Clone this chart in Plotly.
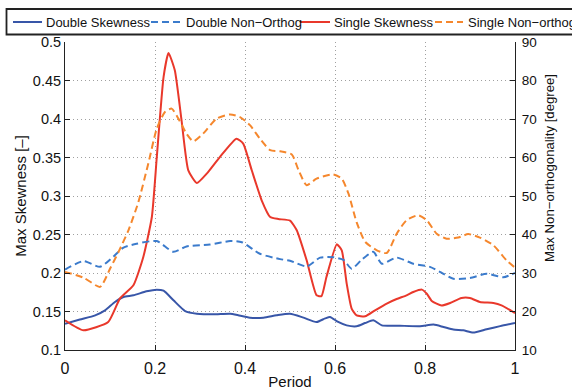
import plotly.graph_objects as go

# ---------------- data ----------------
x_ds = [0.0, 0.033, 0.067, 0.089, 0.111, 0.13, 0.152, 0.181, 0.204, 0.219, 0.241, 0.267,
        0.293, 0.33, 0.367, 0.385, 0.411, 0.441, 0.47, 0.5, 0.53, 0.559, 0.578, 0.589,
        0.607, 0.626, 0.648, 0.667, 0.685, 0.704, 0.744, 0.789, 0.819, 0.841, 0.863,
        0.885, 0.907, 0.937, 0.967, 1.0]
double_skew = [0.134, 0.1395, 0.145, 0.1515, 0.1623, 0.1688, 0.171, 0.1762, 0.1784, 0.177,
               0.1646, 0.1506, 0.1472, 0.1463, 0.1472, 0.145, 0.142, 0.142, 0.145, 0.147,
               0.142, 0.1364, 0.141, 0.143, 0.1364, 0.132, 0.1308, 0.135, 0.1386, 0.132,
               0.1315, 0.131, 0.133, 0.1299, 0.1265, 0.1256, 0.1226, 0.1269, 0.131, 0.135]

x_dn = [0.0, 0.041, 0.078, 0.107, 0.13, 0.159, 0.204, 0.241, 0.27, 0.322, 0.367, 0.393,
        0.433, 0.478, 0.5, 0.537, 0.567, 0.596, 0.619, 0.637, 0.659, 0.685, 0.704, 0.737,
        0.774, 0.811, 0.833, 0.863, 0.9, 0.937, 0.974, 1.0]
double_nonorth = [30.9, 33.1, 31.6, 34.2, 36.6, 37.6, 38.3, 35.5, 36.9, 37.4, 38.3, 38.0,
                  35.0, 33.6, 33.2, 31.7, 34.0, 34.1, 33.4, 31.1, 33.4, 35.5, 32.4, 34.0,
                  32.4, 31.6, 30.3, 28.5, 28.7, 29.8, 28.9, 30.0]

x_ss = [0.0, 0.041, 0.096, 0.122, 0.152, 0.174, 0.193, 0.204, 0.219, 0.23, 0.244, 0.259,
        0.274, 0.293, 0.315, 0.344, 0.381, 0.396, 0.415, 0.437, 0.456, 0.474, 0.5, 0.515,
        0.537, 0.559, 0.57, 0.581, 0.604, 0.615, 0.626, 0.637, 0.648, 0.667, 0.689, 0.715,
        0.737, 0.759, 0.774, 0.793, 0.804, 0.815, 0.837, 0.856, 0.881, 0.9, 0.922, 0.952,
        0.97, 1.0]
single_skew = [0.1386, 0.1256, 0.1364, 0.1668, 0.184, 0.2208, 0.2727, 0.3506, 0.4545, 0.4857,
               0.4632, 0.3983, 0.3334, 0.3169, 0.3291, 0.3506, 0.3745, 0.368, 0.3334, 0.2944,
               0.2727, 0.2701, 0.268, 0.2555, 0.2165, 0.171, 0.170, 0.1948, 0.2373, 0.2295,
               0.1862, 0.1538, 0.145, 0.1437, 0.1515, 0.1603, 0.1662, 0.171, 0.1753, 0.1784,
               0.173, 0.1637, 0.1577, 0.161, 0.1675, 0.1675, 0.1623, 0.161, 0.158, 0.148]

x_sn = [0.0, 0.041, 0.078, 0.1, 0.119, 0.141, 0.163, 0.185, 0.204, 0.222, 0.237, 0.252,
        0.27, 0.285, 0.307, 0.337, 0.367, 0.389, 0.411, 0.433, 0.456, 0.478, 0.504, 0.519,
        0.537, 0.559, 0.596, 0.615, 0.63, 0.648, 0.667, 0.693, 0.715, 0.737, 0.759, 0.785,
        0.804, 0.826, 0.848, 0.874, 0.896, 0.922, 0.952, 0.981, 1.0]
single_nonorth = [30.3, 28.8, 26.4, 31.1, 35.5, 41.1, 48.4, 58.4, 67.5, 71.8, 72.7, 70.1,
                  66.2, 64.2, 66.2, 70.1, 71.2, 70.5, 68.4, 64.9, 61.9, 61.6, 60.8, 56.7,
                  52.8, 54.5, 55.6, 54.5, 50.6, 43.2, 38.1, 35.9, 35.2, 40.2, 43.7, 45.0,
                  43.7, 40.2, 38.9, 39.2, 40.1, 39.2, 37.2, 33.3, 31.4]

series_names = ["Double Skewness", "Double Non\u2212Orthog", "Single Skewness", "Single Non\u2212orthog"]
x_ticks = [0, 0.2, 0.4, 0.6, 0.8, 1]
x_ticklabels = ["0", "0.2", "0.4", "0.6", "0.8", "1"]
left_ticks = [0.1, 0.15, 0.2, 0.25, 0.3, 0.35, 0.4, 0.45, 0.5]
right_ticks = [10, 20, 30, 40, 50, 60, 70, 80, 90]

# ---------------- style ----------------
BLUE = "#3856a8"
BLUE_D = "#3b7bcc"
RED = "#e9382b"
ORANGE = "#f5872d"
DASH = "7px,4px"
GRID = "#a0a0a0"
GRIDDASH = "1px,3px"
FONT = "Liberation Sans, Arial, sans-serif"

W, H = 572, 390
ML, MR, MT, MB = 65, 57, 42, 40
PW, PH = W - ML - MR, H - MT - MB


def px(xp):
    return (xp - ML) / PW


def py(yp):
    return (H - MB - yp) / PH


fig = go.Figure()
fig.add_trace(go.Scatter(x=x_ds, y=double_skew, mode="lines", name=series_names[0],
                         line=dict(color=BLUE, width=2, shape="spline", smoothing=0.6)))
fig.add_trace(go.Scatter(x=x_dn, y=double_nonorth, mode="lines", name=series_names[1], yaxis="y2",
                         line=dict(color=BLUE_D, width=2, dash=DASH, shape="spline", smoothing=0.6)))
fig.add_trace(go.Scatter(x=x_ss, y=single_skew, mode="lines", name=series_names[2],
                         line=dict(color=RED, width=2, shape="spline", smoothing=0.5)))
fig.add_trace(go.Scatter(x=x_sn, y=single_nonorth, mode="lines", name=series_names[3], yaxis="y2",
                         line=dict(color=ORANGE, width=2, dash=DASH, shape="spline", smoothing=0.6)))

axis_common = dict(showline=True, linecolor="#222", linewidth=1, ticks="inside", ticklen=5,
                   tickcolor="#222", zeroline=False, mirror=False, automargin=False)

fig.update_layout(
    width=W, height=H,
    margin=dict(l=ML, r=MR, t=MT, b=MB),
    paper_bgcolor="white", plot_bgcolor="white",
    showlegend=False,
    font=dict(family=FONT, size=15, color="#111"),
    xaxis=dict(range=[0, 1], tickvals=x_ticks, ticktext=x_ticklabels,
               showgrid=True, gridcolor=GRID, griddash=GRIDDASH, gridwidth=1,
               tickfont=dict(family=FONT, size=16), ticklabelstandoff=4,
               title=dict(text="Period", font=dict(family=FONT, size=15), standoff=0),
               **axis_common),
    yaxis=dict(range=[0.1, 0.5], tickvals=left_ticks,
               showgrid=True, gridcolor=GRID, griddash=GRIDDASH, gridwidth=1,
               tickfont=dict(family=FONT, size=14.5),
               title=dict(text="Max Skewness [\u2013]", font=dict(family=FONT, size=15), standoff=2),
               **axis_common),
    yaxis2=dict(range=[10, 90], tickvals=right_ticks, overlaying="y", side="right",
                showgrid=False, tickfont=dict(family=FONT, size=13.5), ticklabelstandoff=3,
                **axis_common),
)

# right axis title
fig.add_annotation(text="Max Non\u2212orthogonality [degree]", xref="paper", yref="paper",
                   x=px(549), y=py(168), textangle=-90, showarrow=False,
                   font=dict(family=FONT, size=13.2, color="#111"),
                   xanchor="center", yanchor="middle")

# manual legend (box extends past the right edge, as in the reference)
fig.add_shape(type="rect", xref="paper", yref="paper", x0=px(6.5), x1=px(640), y0=py(34.5), y1=py(9),
              line=dict(color="#222", width=1.8), fillcolor="white", layer="above")
leg_line_x = [(13, 42), (151, 180), (300, 330), (435, 463)]
leg_text_x = [44, 184, 331.5, 466]
leg_colors = [BLUE, BLUE_D, RED, ORANGE]
leg_dash = ["solid", DASH, "solid", DASH]
for i in range(4):
    fig.add_shape(type="line", xref="paper", yref="paper",
                  x0=px(leg_line_x[i][0]), x1=px(leg_line_x[i][1]), y0=py(22), y1=py(22),
                  line=dict(color=leg_colors[i], width=2, dash=leg_dash[i]), layer="above")
    fig.add_annotation(text=series_names[i], xref="paper", yref="paper",
                       x=px(leg_text_x[i]), y=py(22.5), showarrow=False,
                       xanchor="left", yanchor="middle",
                       font=dict(family=FONT, size=13, color="#111"))

fig.write_html("out.html", config={"displayModeBar": False},
               post_script="document.body.style.margin='0px';document.documentElement.style.overflow='hidden';")
